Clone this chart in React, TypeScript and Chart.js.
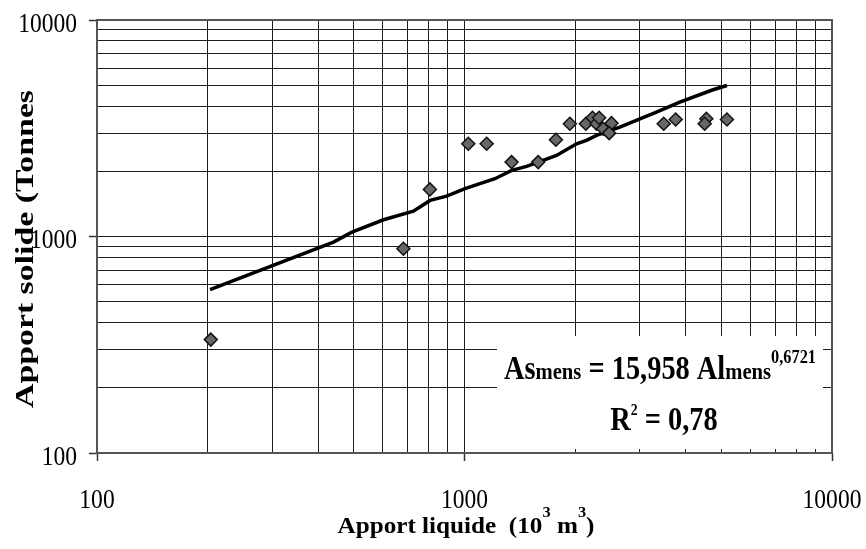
import React, { useEffect, useRef } from "react";
import { Chart, registerables } from "chart.js";

Chart.register(...registerables);

// ---- data ----
const pointX = [204, 682, 805, 1024, 1149, 1343, 1587, 1773, 1935, 2139, 2230, 2287, 2324, 2384, 2512, 2475, 3484, 3756, 4551, 4503, 5178];
const pointY = [334, 878, 1650, 2682, 2682, 2206, 2206, 2798, 3318, 3318, 3536, 3318, 3536, 3146, 3338, 3002, 3318, 3472, 3499, 3318, 3472];
const fitX = [203, 440, 494, 602, 726, 806, 894, 1003, 1210, 1344, 1476, 1780, 2018, 2148, 2287, 2646, 3329, 3852, 4745, 5178];
const fitY = [568, 942, 1048, 1195, 1310, 1468, 1537, 1663, 1849, 2020, 2107, 2368, 2682, 2778, 2930, 3201, 3752, 4174, 4762, 4985];

const gridTicks = [100, 200, 300, 400, 500, 600, 700, 800, 900, 1000, 2000, 3000, 4000, 5000, 6000, 7000, 8000, 9000, 10000];
const majorTicks = [100, 1000, 10000];
const majorLabels = ["100", "1000", "10000"];

const xTitleParts = ["Apport liquide  (10", "3", " m", "3", ")"];
const yTitle = "Apport solide (Tonnes)";
const eqLine1 = ["As", "mens", " = 15,958 Al", "mens", "0,6721"];
const eqLine2 = ["R", "2", " = 0,78"];

const SERIF = '"Liberation Serif", "Times New Roman", serif';

type Part = { t: string; font: string; dy: number };

function drawParts(ctx: CanvasRenderingContext2D, parts: Part[], cx: number, baseline: number, sx: number | null, targetW?: number) {
  let total = 0;
  const widths = parts.map((p) => {
    ctx.font = p.font;
    const w = ctx.measureText(p.t).width;
    total += w;
    return w;
  });
  const s = targetW ? targetW / total : (sx as number);
  ctx.save();
  ctx.translate(cx, baseline);
  ctx.scale(s, 1);
  ctx.textAlign = "left";
  ctx.textBaseline = "alphabetic";
  let x = -total / 2;
  parts.forEach((p, i) => {
    ctx.font = p.font;
    ctx.fillText(p.t, x, p.dy);
    x += widths[i];
  });
  ctx.restore();
}

const decorPlugin = {
  id: "decor",
  beforeDatasetsDraw(chart: any) {
    const ctx: CanvasRenderingContext2D = chart.ctx;
    // equation text box (covers grid)
    ctx.save();
    ctx.fillStyle = "#ffffff";
    ctx.fillRect(497, 336, 823 - 497, 449 - 336);
    ctx.restore();
  },
  afterDraw(chart: any) {
    const ctx: CanvasRenderingContext2D = chart.ctx;
    const a = chart.chartArea;
    const xs = chart.scales.x;
    const ys = chart.scales.y;
    // frame
    ctx.save();
    ctx.strokeStyle = "#555555";
    ctx.lineWidth = 2;
    ctx.strokeRect(a.left, a.top, a.right - a.left, a.bottom - a.top);
    ctx.restore();

    ctx.save();
    ctx.fillStyle = "#000000";
    // tick labels
    const tickFont = "28px " + SERIF;
    majorTicks.forEach((v, i) => {
      const py = ys.getPixelForValue(v);
      ctx.save();
      ctx.font = tickFont;
      ctx.translate(a.left - 20, py + 11.5);
      ctx.scale(0.84, 1);
      ctx.textAlign = "right";
      ctx.textBaseline = "alphabetic";
      ctx.fillText(majorLabels[i], 0, 0);
      ctx.restore();

      const px = xs.getPixelForValue(v);
      ctx.save();
      ctx.font = tickFont;
      ctx.translate(px, 508);
      ctx.scale(0.84, 1);
      ctx.textAlign = "center";
      ctx.textBaseline = "alphabetic";
      ctx.fillText(majorLabels[i], 0, 0);
      ctx.restore();
    });

    // x title
    const bMain = "bold 23px " + SERIF;
    const bSup = "bold 15px " + SERIF;
    drawParts(
      ctx,
      [
        { t: xTitleParts[0], font: bMain, dy: 0 },
        { t: xTitleParts[1], font: bSup, dy: -16 },
        { t: xTitleParts[2], font: bMain, dy: 0 },
        { t: xTitleParts[3], font: bSup, dy: -16 },
        { t: xTitleParts[4], font: bMain, dy: 0 },
      ],
      466,
      533,
      null,
      257
    );

    // y title (rotated, clipped at top)
    ctx.save();
    ctx.beginPath();
    ctx.rect(0, 91, 90, 549);
    ctx.clip();
    ctx.translate(33, 408);
    ctx.rotate(-Math.PI / 2);
    ctx.font = "bold 26px " + SERIF;
    const wPart = ctx.measureText("Apport solide (Tonnes").width;
    ctx.scale(318 / wPart, 1);
    ctx.textAlign = "left";
    ctx.textBaseline = "alphabetic";
    ctx.fillText(yTitle, 0, 0);
    ctx.restore();

    // equation
    const eMain = "bold 33px " + SERIF;
    const eSub = "bold 24px " + SERIF;
    const eSup = "bold 19px " + SERIF;
    const eSup2 = "bold 16px " + SERIF;
    drawParts(
      ctx,
      [
        { t: eqLine1[0], font: eMain, dy: 0 },
        { t: eqLine1[1], font: eSub, dy: 0 },
        { t: eqLine1[2], font: eMain, dy: 0 },
        { t: eqLine1[3], font: eSub, dy: 0 },
        { t: eqLine1[4], font: eSup, dy: -16 },
      ],
      660,
      379,
      0.86
    );
    drawParts(
      ctx,
      [
        { t: eqLine2[0], font: eMain, dy: 0 },
        { t: eqLine2[1], font: eSup2, dy: -15 },
        { t: eqLine2[2], font: eMain, dy: 0 },
      ],
      664,
      430,
      0.86
    );
    ctx.restore();
  },
};

function makeScale(isX: boolean) {
  return {
    type: "logarithmic" as const,
    position: isX ? "bottom" : "left",
    min: 100,
    max: 10000,
    afterBuildTicks: (scale: any) => {
      scale.ticks = gridTicks.map((v) => ({ value: v, major: majorTicks.includes(v) }));
    },
    afterFit: (scale: any) => {
      if (isX) scale.height = 96;
      else scale.width = 97;
    },
    ticks: { display: false },
    border: { display: false },
    grid: {
      color: "#1e1e1e",
      lineWidth: 1,
      drawTicks: true,
      tickLength: 8,
      tickColor: (c: any) => (c.tick && majorTicks.includes(c.tick.value) ? "#333333" : "rgba(0,0,0,0)"),
      tickWidth: 1.5,
    },
  };
}

export default function App() {
  const ref = useRef<HTMLCanvasElement | null>(null);
  useEffect(() => {
    if (!ref.current) return;
    const chart = new Chart(ref.current, {
      type: "scatter",
      data: {
        datasets: [
          {
            label: "Mesures",
            data: pointX.map((x, i) => ({ x, y: pointY[i] })),
            pointStyle: "rectRot",
            pointRadius: 6.5,
            pointBackgroundColor: "#676767",
            pointBorderColor: "#111111",
            pointBorderWidth: 1.5,
            showLine: false,
          },
          {
            label: "Ajustement",
            data: fitX.map((x, i) => ({ x, y: fitY[i] })),
            showLine: true,
            borderColor: "#000000",
            borderWidth: 3.5,
            pointRadius: 0,
            tension: 0,
          },
        ],
      },
      options: {
        animation: false,
        responsive: true,
        maintainAspectRatio: false,
        layout: { padding: { top: 20, right: 34, left: 0, bottom: 0 } },
        plugins: { legend: { display: false }, tooltip: { enabled: false }, title: { display: false } },
        scales: { x: makeScale(true) as any, y: makeScale(false) as any },
      },
      plugins: [decorPlugin],
    });
    return () => chart.destroy();
  }, []);
  return (
    <div style={{ position: "fixed", left: 0, top: 0, width: 866, height: 549, background: "#fff" }}>
      <canvas ref={ref} />
    </div>
  );
}
